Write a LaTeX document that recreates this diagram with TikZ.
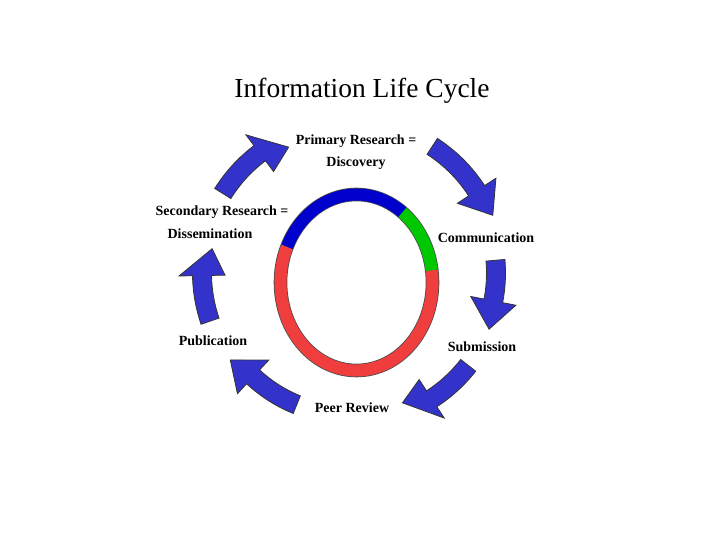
\documentclass[tikz,border=0pt]{standalone}
\usepackage{fontspec}
\setmainfont{Liberation Serif}
\usetikzlibrary{calc}

\definecolor{ringblue}{RGB}{0,0,204}
\definecolor{ringgreen}{RGB}{0,200,0}
\definecolor{ringred}{RGB}{240,62,62}
\definecolor{arrowblue}{RGB}{51,51,204}

\begin{document}
\begin{tikzpicture}
[x=1pt,y=1pt,
  labelDecorate/.style={font=\fontsize{14}{16}\selectfont\bfseries,inner sep=1pt},%
  titleDecorate/.style={font=\fontsize{27.5}{32}\selectfont,inner sep=1pt},%
  arrowDecorate/.style={fill=arrowblue,draw=black!80,line width=0.8pt,line join=miter},%
  ringDecorate/.style={line width=12pt}]
\useasboundingbox (0,0) rectangle (720,540);
%% title
\node (title) at (362,449) [titleDecorate] {Information Life Cycle};
%% stage labels
\foreach \nodename/\x/\y/\text in {prim/356/399/{Primary Research =}, disc/356/377/Discovery,
  comm/486/302/Communication, sub/482/193/Submission, peer/352/132/Peer Review,
  pub/213/199/Publication, sec/222/328/{Secondary Research =}, diss/210/306/Dissemination}
{
  \node (\nodename) at (\x,\y) [labelDecorate] {\text};
}
%% ring in the middle
\coordinate (ring) at (356.5,257.5);
\draw[line width=13.6pt,black!70] (ring) ellipse [x radius=76,y radius=88];
\draw[ringDecorate,ringred] ($(ring)+(8:76 and 88)$) arc[start angle=8,end angle=-204,x radius=76,y radius=88];
\draw[ringDecorate,ringgreen] ($(ring)+(53:76 and 88)$) arc[start angle=53,end angle=8,x radius=76,y radius=88];
\draw[ringDecorate,ringblue] ($(ring)+(156:76 and 88)$) arc[start angle=156,end angle=53,x radius=76,y radius=88];
%% curved arrows between the stages
\coordinate (hub) at (350,267);
\foreach \s/\t/\r/\rt in {148/116/150/140, 57/22/151/154, 5/-22/146/150,
  -38/-68/150/140, -112/-144/142/148, 199/170/148/140}
{
  \pgfmathsetmacro\e{\t+11}
  \filldraw[arrowDecorate] ($(hub)+(\s:\r+9.5)$) arc[start angle=\s,end angle=\e,radius=\r+9.5]
    -- ($(hub)+(\e:\r+23)$) -- ($(hub)+(\t:\rt)$) -- ($(hub)+(\e:\r-23)$)
    -- ($(hub)+(\e:\r-9.5)$) arc[start angle=\e,end angle=\s,radius=\r-9.5] -- cycle;
}
\end{tikzpicture}
\end{document}
